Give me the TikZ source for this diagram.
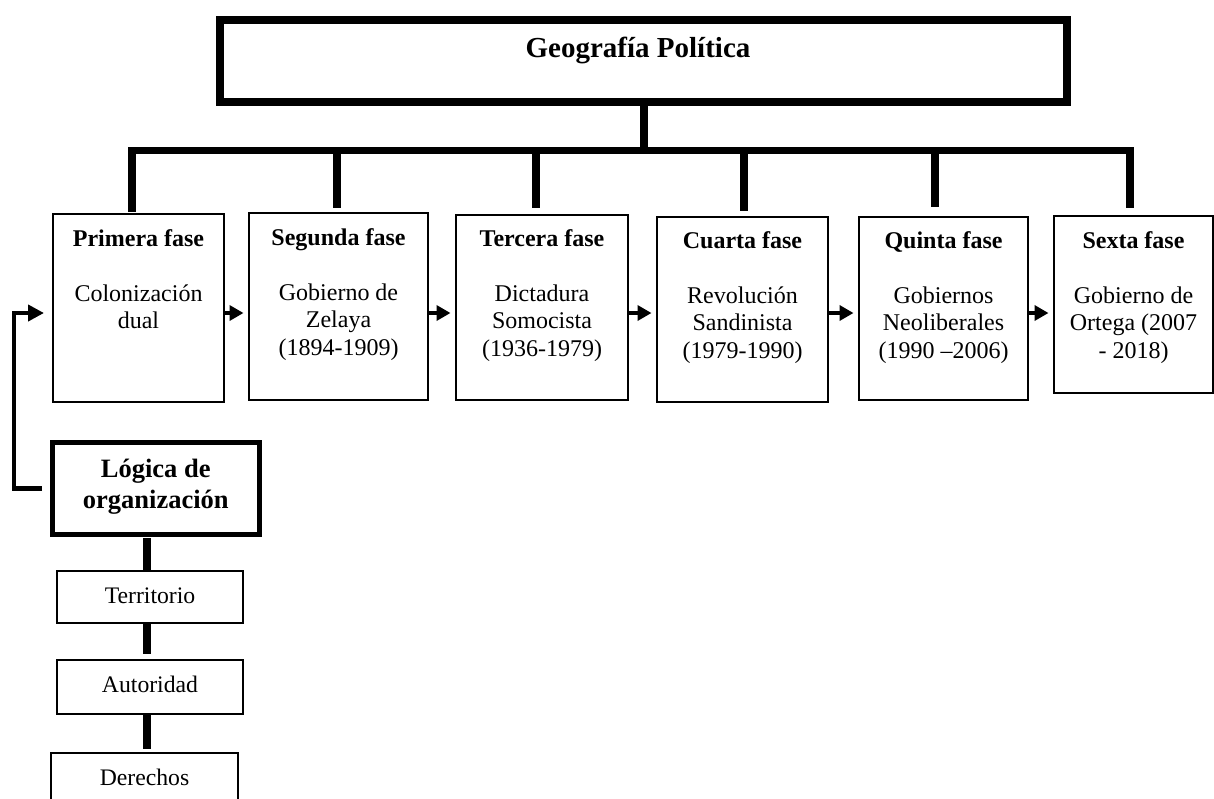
\documentclass[tikz,border=0pt]{standalone}
\usepackage{fontspec}
\setmainfont{Liberation Serif}
\usetikzlibrary{arrows.meta}
\begin{document}
\begin{tikzpicture}[x=1pt,y=-1pt,
  headbox/.style={draw, line width=8pt, rectangle, inner sep=0pt, anchor=north west},
  phasebox/.style={draw, line width=2pt, rectangle, inner sep=0pt, anchor=north west},
  phasetext/.style={anchor=base, inner sep=0pt, font=\fontsize{24}{27.6}\selectfont},
  logicbox/.style={draw, line width=4.5pt, rectangle, inner sep=0pt, anchor=north west},
  itembox/.style={draw, line width=2pt, rectangle, inner sep=0pt, anchor=north west},
  itemtext/.style={anchor=base, inner sep=0pt, font=\fontsize{23.7}{27}\selectfont},
  trunk/.style={line width=8pt},
  barline/.style={line width=7.5pt, line join=miter},
  flow/.style={line width=4pt, -{Triangle[length=14pt,width=15pt]}, shorten >=4.5pt},
  loopline/.style={line width=4.5pt, -{Triangle[length=16pt,width=16pt]}, shorten >=8pt, shorten <=8pt},
]
\useasboundingbox (0,0) rectangle (1214,798);

% title box
\node[headbox, minimum width=847pt, minimum height=82pt] (top) at (216,16) {};
\node[anchor=base, inner sep=0pt, font=\fontsize{29}{33}\selectfont\bfseries] (toptxt) at (638,57) {Geografía Política};

% phase boxes
\node[phasebox, minimum width=171pt, minimum height=188pt] (p1) at (52,213) {};
\node[phasebox, minimum width=179pt, minimum height=187pt] (p2) at (248,212) {};
\node[phasebox, minimum width=172pt, minimum height=185pt] (p3) at (455,214) {};
\node[phasebox, minimum width=171pt, minimum height=185pt] (p4) at (656,216) {};
\node[phasebox, minimum width=169pt, minimum height=183pt] (p5) at (858,216) {};
\node[phasebox, minimum width=159pt, minimum height=177pt] (p6) at (1053,215) {};

\node[phasetext] (p1t) at (p1.north |- 0,246) {\begin{tabular}[t]{@{}c@{}}\textbf{Primera fase}\\ \\ Colonización\\ dual\end{tabular}};
\node[phasetext] (p2t) at (p2.north |- 0,245) {\begin{tabular}[t]{@{}c@{}}\textbf{Segunda fase}\\ \\ Gobierno de\\ Zelaya\\ (1894-1909)\end{tabular}};
\node[phasetext] (p3t) at (p3.north |- 0,246) {\begin{tabular}[t]{@{}c@{}}\textbf{Tercera fase}\\ \\ Dictadura\\ Somocista\\ (1936-1979)\end{tabular}};
\node[phasetext] (p4t) at (p4.north |- 0,248) {\begin{tabular}[t]{@{}c@{}}\textbf{Cuarta fase}\\ \\ Revolución\\ Sandinista\\ (1979-1990)\end{tabular}};
\node[phasetext] (p5t) at (p5.north |- 0,248) {\begin{tabular}[t]{@{}c@{}}\textbf{Quinta fase}\\ \\ Gobiernos\\ Neoliberales\\ (1990 --2006)\end{tabular}};
\node[phasetext] (p6t) at (p6.north |- 0,248) {\begin{tabular}[t]{@{}c@{}}\textbf{Sexta fase}\\ \\ Gobierno de\\ Ortega (2007\\ - 2018)\end{tabular}};

% branching from the title to the phases
\coordinate (j1) at (132,150.5);
\coordinate (j2) at (337,150.5);
\coordinate (j3) at (536,150.5);
\coordinate (j4) at (744,150.5);
\coordinate (j5) at (935,150.5);
\coordinate (j6) at (1130,150.5);
\coordinate (d1) at (132,212);
\coordinate (d2) at (337,208);
\coordinate (d3) at (536,208);
\coordinate (d4) at (744,211);
\coordinate (d5) at (935,207);
\coordinate (d6) at (1130,208);
\draw[trunk] (top.south) -- (top.south |- j1);
\draw[barline] (d1) -- (j1) -- (j6) -- (d6);
\draw[trunk] (j2) -- (d2);
\draw[trunk] (j3) -- (d3);
\draw[trunk] (j4) -- (d4);
\draw[trunk] (j5) -- (d5);

% sequence arrows
\coordinate (flowrow) at (0,313);
\draw[flow] (p1.east |- flowrow) -- (p2.west |- flowrow);
\draw[flow] (p2.east |- flowrow) -- (p3.west |- flowrow);
\draw[flow] (p3.east |- flowrow) -- (p4.west |- flowrow);
\draw[flow] (p4.east |- flowrow) -- (p5.west |- flowrow);
\draw[flow] (p5.east |- flowrow) -- (p6.west |- flowrow);

% organisation logic and its components
\node[logicbox, minimum width=207pt, minimum height=92pt] (lg) at (50,440) {};
\node[anchor=base, inner sep=0pt, font=\fontsize{26.5}{31}\selectfont\bfseries] (lgt) at (lg.north |- 0,477) {\begin{tabular}[t]{@{}c@{}}Lógica de\\ organización\end{tabular}};

\node[itembox, minimum width=186pt, minimum height=52pt] (ter) at (56,570) {};
\node[itemtext] (tert) at (ter.north |- 0,603) {Territorio};
\node[itembox, minimum width=186pt, minimum height=54pt] (aut) at (56,659) {};
\node[itemtext] (autt) at (aut.north |- 0,692) {Autoridad};
\node[itembox, minimum width=187pt, minimum height=70pt] (der) at (50,752) {};
\node[itemtext] (dert) at (der.north |- 0,785) {Derechos};

\draw[trunk, shorten <=3pt] (ter.north -| 147,0) ++(0,-35) coordinate (lgfoot) -- (ter.north -| 147,0);
\draw[trunk, shorten >=5pt] (ter.south -| 147,0) -- (aut.north -| 147,0);
\draw[trunk, shorten >=3pt] (aut.south -| 147,0) -- (der.north -| 147,0);

% feedback into the first phase
\coordinate (loopc) at (14,313);
\draw[loopline] (lg.west) -| (loopc) -- (p1.west |- loopc);
\end{tikzpicture}
\end{document}
